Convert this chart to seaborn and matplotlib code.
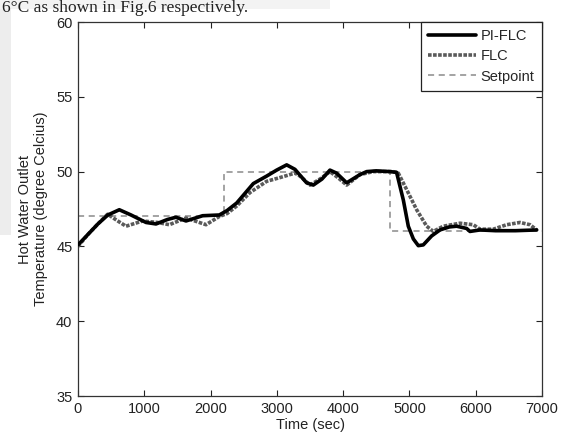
import numpy as np
import pandas as pd
import matplotlib
matplotlib.use("Agg")
import matplotlib.pyplot as plt
from matplotlib.patches import Rectangle
import seaborn as sns

# Setpoint profile (step changes)
sp_time = [0, 2200, 2200, 4700, 4700, 7000]
sp_temp = [47, 47, 50, 50, 46, 46]

# PI-FLC response
pi_time = [0, 150, 300, 450, 623, 800, 1026, 1177, 1350, 1478, 1629, 1880, 2132,
           2250, 2394, 2645, 2846, 2997, 3148, 3273, 3449, 3550, 3680, 3801, 3900,
           4053, 4254, 4355, 4500, 4707, 4806, 4908, 4983, 5059, 5134, 5209, 5335,
           5461, 5600, 5712, 5863, 5913, 6064, 6300, 6600, 6920]
pi_temp = [45.1, 45.8, 46.5, 47.1, 47.45, 47.1, 46.6, 46.5, 46.8, 46.95, 46.7, 47.05, 47.1,
           47.4, 47.9, 49.2, 49.7, 50.1, 50.45, 50.15, 49.25, 49.1, 49.5, 50.1, 49.9,
           49.25, 49.8, 50.0, 50.05, 50.0, 49.95, 48.1, 46.35, 45.5, 45.05, 45.1, 45.7,
           46.1, 46.3, 46.35, 46.2, 46.0, 46.1, 46.05, 46.05, 46.1]

# FLC response
flc_time = [0, 150, 300, 447, 600, 724, 975, 1200, 1378, 1629, 1931, 2132, 2250,
            2394, 2595, 2846, 3047, 3273, 3349, 3500, 3650, 3801, 3920, 4053, 4254,
            4455, 4750, 4832, 4958, 5109, 5260, 5360, 5511, 5762, 5963, 6064, 6265,
            6467, 6668, 6819, 6920]
flc_temp = [45.0, 45.8, 46.5, 47.15, 46.7, 46.35, 46.7, 46.6, 46.45, 46.9, 46.45, 47.0, 47.2,
            47.7, 48.6, 49.35, 49.6, 49.9, 49.7, 49.1, 49.5, 50.0, 49.6, 49.1, 49.8,
            50.0, 50.0, 49.9, 48.8, 47.45, 46.35, 46.0, 46.35, 46.55, 46.45, 46.15, 46.15,
            46.45, 46.6, 46.45, 46.1]

x_ticks = [0, 1000, 2000, 3000, 4000, 5000, 6000, 7000]
y_ticks = [35, 40, 45, 50, 55, 60]

sns.set_theme(style="ticks")
plt.rcParams["font.family"] = ["Liberation Sans", "DejaVu Sans"]

W, H = 567, 436
fig = plt.figure(figsize=(W / 100, H / 100), dpi=100)

# light grey page background around the pasted figure
fig.add_artist(Rectangle((0, 1 - 235 / H), 11 / W, 235 / H, transform=fig.transFigure,
                         facecolor="#ededed", edgecolor="none", zorder=0))
fig.add_artist(Rectangle((0, 1 - 9 / H), 330 / W, 9 / H, transform=fig.transFigure,
                         facecolor="#f3f3f3", edgecolor="none", zorder=0))

ax = fig.add_axes([78 / W, 1 - 396 / H, (542 - 78) / W, (396 - 22) / H])

df_pi = pd.DataFrame({"t": pi_time, "T": pi_temp})
df_flc = pd.DataFrame({"t": flc_time, "T": flc_temp})
df_sp = pd.DataFrame({"t": sp_time, "T": sp_temp})

sns.lineplot(data=df_pi, x="t", y="T", ax=ax, color="black", lw=2.6,
             sort=False, estimator=None, label="PI-FLC", zorder=4)
sns.lineplot(data=df_flc, x="t", y="T", ax=ax, color="#5a5a5a", lw=2.6,
             sort=False, estimator=None, label="FLC", zorder=3)
ax.lines[-1].set_linestyle((0, (1.0, 0.4)))
sns.lineplot(data=df_sp, x="t", y="T", ax=ax, color="#8a8a8a", lw=1.1,
             sort=False, estimator=None, label="Setpoint", zorder=2)
ax.lines[-1].set_linestyle((0, (4, 3)))

ax.set_xlim(0, 7000)
ax.set_ylim(35, 60)
ax.set_xticks(x_ticks)
ax.set_yticks(y_ticks)
ax.tick_params(direction="in", top=True, right=True, length=4, width=0.8,
               labelsize=10.5, colors="#222222", pad=4)
for s in ax.spines.values():
    s.set_visible(True)
    s.set_color("#333333")
    s.set_linewidth(0.9)

ax.set_xlabel("Time (sec)", fontsize=10.5, color="#222222", labelpad=2)
ax.set_ylabel("Hot Water Outlet\nTemperature (degree Celcius)", fontsize=10.5,
              color="#222222", labelpad=6)

leg = ax.legend(loc="upper right", borderaxespad=0, fancybox=False, framealpha=1,
                edgecolor="#222222", fontsize=10.5, handlelength=3.3,
                handletextpad=0.3, labelspacing=0.42, borderpad=0.5)
leg.get_frame().set_linewidth(0.9)

# running text of the page above the figure
fig.text(2 / W, 1 - 0.5 / H, "6\u00b0C as shown in Fig.6 respectively.",
         family="Liberation Serif", fontsize=12.5, color="#222222",
         ha="left", va="top")

fig.savefig("out.png", dpi=100)
